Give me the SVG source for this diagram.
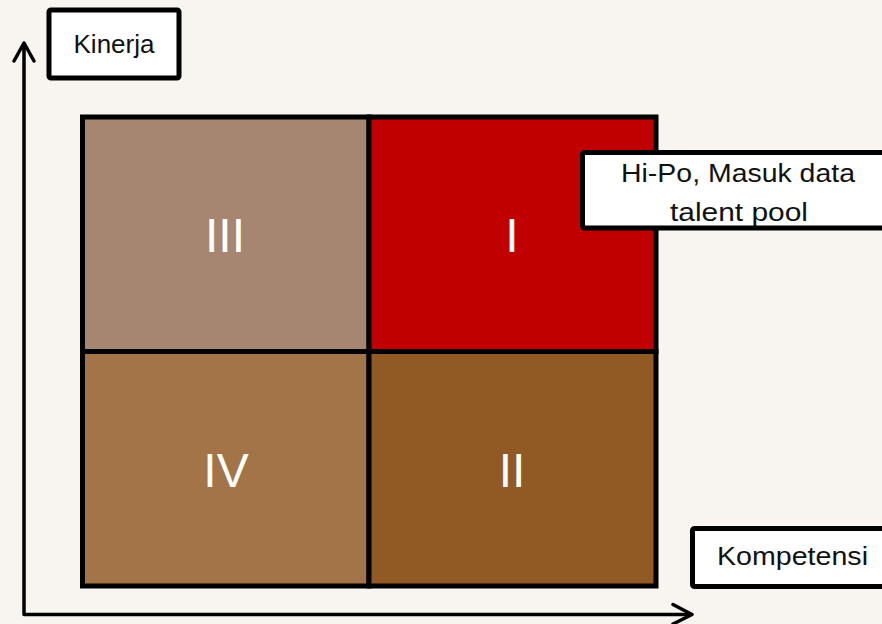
<svg xmlns="http://www.w3.org/2000/svg" width="882" height="624" viewBox="0 0 882 624">
  <style>
    .cell { stroke: #000; stroke-width: 5; }
    .box { fill: #fff; stroke: #000; stroke-width: 5; }
    .num { font-family: "Liberation Sans", Arial, sans-serif; font-size: 48px; fill: #fff; text-anchor: middle; }
    .lbl { font-family: "Liberation Sans", Arial, sans-serif; font-size: 26px; fill: #111; text-anchor: middle; }
    .axis { fill: none; stroke: #000; stroke-width: 3.5; stroke-linecap: round; stroke-linejoin: round; }
  </style>
  <rect width="882" height="624" fill="#f8f5f0"/>

  <!-- axes -->
  <g id="axes">
    <path class="axis" d="M24 44 V614.5 H691"/>
    <path class="axis" d="M14 61 L24 43 L34 61"/>
    <path class="axis" d="M673 604.5 L692 614.5 L673 624"/>
  </g>

  <!-- quadrant matrix -->
  <g id="q3">
    <rect class="cell" x="82.5" y="117" width="286.5" height="234.5" fill="#a68670"/>
    <text class="num" x="225" y="252">III</text>
  </g>
  <g id="q1">
    <rect class="cell" x="369" y="117" width="287" height="234.5" fill="#c00000"/>
    <text class="num" x="512" y="252">I</text>
  </g>
  <g id="q4">
    <rect class="cell" x="82.5" y="351.5" width="286.5" height="234.5" fill="#a27448"/>
    <text class="num" x="226" y="487">IV</text>
  </g>
  <g id="q2">
    <rect class="cell" x="369" y="351.5" width="287" height="234.5" fill="#915a24"/>
    <text class="num" x="512" y="487">II</text>
  </g>

  <!-- labels -->
  <g id="kinerja">
    <rect class="box" x="49" y="10" width="130" height="68" rx="2"/>
    <text class="lbl" x="114" y="53">Kinerja</text>
  </g>
  <g id="hipo">
    <rect class="box" x="582.5" y="152.5" width="320" height="75.5" rx="2"/>
    <text class="lbl" x="738" y="182" textLength="234" lengthAdjust="spacingAndGlyphs">Hi-Po, Masuk data</text>
    <text class="lbl" x="739" y="221" textLength="138" lengthAdjust="spacingAndGlyphs">talent pool</text>
  </g>
  <g id="kompetensi">
    <rect class="box" x="692.5" y="528.5" width="220" height="58" rx="2"/>
    <text class="lbl" x="792.5" y="565" textLength="151" lengthAdjust="spacingAndGlyphs">Kompetensi</text>
  </g>
</svg>
